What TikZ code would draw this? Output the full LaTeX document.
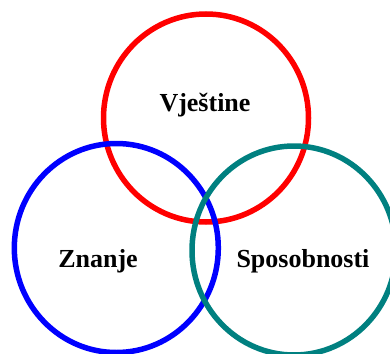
\documentclass[tikz,border=0pt]{standalone}
\usepackage{fontspec}
\setmainfont{Liberation Serif}
\definecolor{ringred}{RGB}{255,0,0}
\definecolor{ringblue}{RGB}{0,0,255}
\definecolor{ringteal}{RGB}{0,128,128}
\begin{document}
\begin{tikzpicture}[x=1pt,y=-1pt,
  ring/.style={line width=5.5pt},
  lbl/.style={font=\bfseries\fontsize{26}{30}\selectfont, anchor=base, inner sep=0pt}]
\path[use as bounding box] (0,0) rectangle (390,353);
\begin{scope}
\clip (0,0) rectangle (390,353);
\draw[ring, ringred]  (206,118) ellipse[x radius=102.5, y radius=104];
\draw[ring, ringblue] (116.3,248) ellipse[x radius=102, y radius=104.5];
\draw[ring, ringteal] (294,250.5) ellipse[x radius=102, y radius=104.5];
\end{scope}
\node[lbl] (v) at (205,111) {Vještine};
\node[lbl] (z) at (98,267) {Znanje};
\node[lbl] (s) at (303,267) {Sposobnosti};
\end{tikzpicture}
\end{document}
